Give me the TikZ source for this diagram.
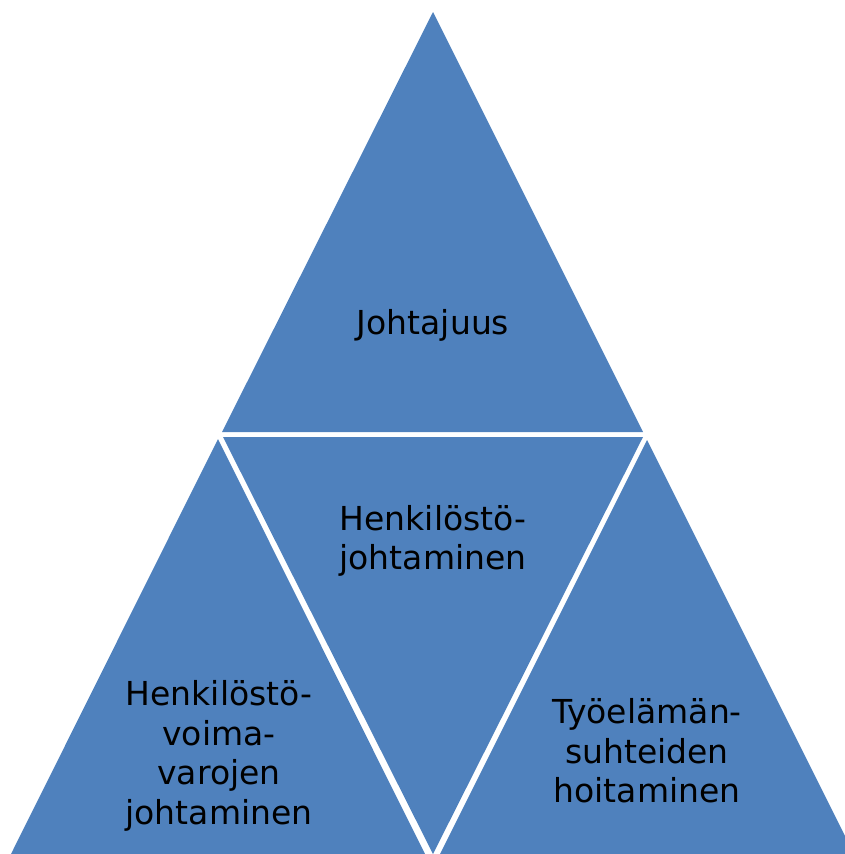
\documentclass[tikz,border=0pt]{standalone}
\usepackage{fontspec}
\setmainfont{DejaVu Sans}
\usetikzlibrary{positioning}
\definecolor{triblue}{RGB}{79,129,189}
\tikzset{
	tri/.style={fill=triblue},
	lbl/.style={align=center,font=\fontsize{33}{39.5}\selectfont,text=black,inner sep=0pt}
}

\begin{document}
\begin{tikzpicture}[x=1pt,y=-1pt]
		\useasboundingbox (0,0) rectangle (845,854);
		\clip (0,0) rectangle (845,854);
		
		% top triangle
		\coordinate (ta) at (433,12);
		\coordinate (tl) at (222,432);
		\coordinate (tr) at (643,432);
		% middle (upside down)
		\coordinate (ml) at (223,437);
		\coordinate (mr) at (643,437);
		\coordinate (mb) at (433,854);
		% bottom left
		\coordinate (la) at (218,439);
		\coordinate (ll) at (11,854);
		\coordinate (lr) at (425,854);
		% bottom right
		\coordinate (ra) at (647,440);
		\coordinate (rl) at (440,854);
		\coordinate (rr) at (854,854);
		
		\fill[tri] (ta) -- (tl) -- (tr) -- cycle;
		\fill[tri] (ml) -- (mr) -- (mb) -- cycle;
		\fill[tri] (la) -- (ll) -- (lr) -- cycle;
		\fill[tri] (ra) -- (rl) -- (rr) -- cycle;
		
		\node[lbl] (johtajuus) at (433,325) {Johtajuus};
		\node[lbl] (hjohto) at (433,541) {Henkilöstö-\\johtaminen};
		\node[lbl] (voima) at (219,756) {Henkilöstö-\\voima-\\varojen\\johtaminen};
		\node[lbl] (tyoel) at (647,751) {Työelämän-\\suhteiden\\hoitaminen};
	\end{tikzpicture}
\end{document}
